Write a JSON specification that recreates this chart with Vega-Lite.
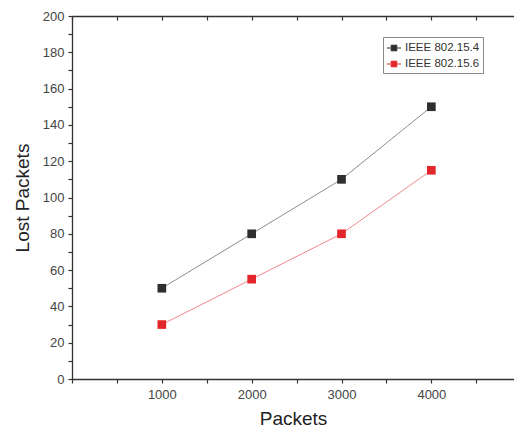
{
  "$schema": "https://vega.github.io/schema/vega-lite/v6.json",
  "width": 442,
  "height": 363,
  "autosize": {"type": "none"},
  "padding": {"left": 72, "top": 16, "right": 0, "bottom": 57},
  "background": "white",
  "config": {
    "view": {"stroke": null},
    "axis": {
      "labelFont": "Liberation Sans",
      "titleFont": "Liberation Sans",
      "grid": false,
      "domainColor": "#333",
      "domainWidth": 1.3,
      "tickColor": "#333",
      "tickWidth": 1.2,
      "labelColor": "#444",
      "labelFontSize": 13,
      "labelOverlap": false,
      "titleFontSize": 19,
      "titleFontWeight": "normal",
      "titleColor": "#222"
    }
  },
  "data": {
    "values": [
      {"packets": 1000, "lost": 50, "series": "IEEE 802.15.4"},
      {"packets": 2000, "lost": 80, "series": "IEEE 802.15.4"},
      {"packets": 3000, "lost": 110, "series": "IEEE 802.15.4"},
      {"packets": 4000, "lost": 150, "series": "IEEE 802.15.4"},
      {"packets": 1000, "lost": 30, "series": "IEEE 802.15.6"},
      {"packets": 2000, "lost": 55, "series": "IEEE 802.15.6"},
      {"packets": 3000, "lost": 80, "series": "IEEE 802.15.6"},
      {"packets": 4000, "lost": 115, "series": "IEEE 802.15.6"}
    ]
  },
  "resolve": {"axis": {"x": "independent"}},
  "encoding": {
    "y": {
      "field": "lost", "type": "quantitative",
      "scale": {"domain": [0, 200], "nice": false},
      "axis": {
        "title": "Lost Packets",
        "values": [0, 10, 20, 30, 40, 50, 60, 70, 80, 90, 100, 110, 120, 130, 140, 150, 160, 170, 180, 190, 200],
        "labelExpr": "datum.value % 20 === 0 ? format(datum.value, 'd') : ''",
        "tickSize": 4,
        "labelPadding": 4,
        "titlePadding": 10
      }
    }
  },
  "layer": [
    {
      "mark": {"type": "line", "strokeWidth": 1, "opacity": 0.55},
      "encoding": {
        "x": {
          "field": "packets", "type": "quantitative",
          "scale": {"domain": [0, 4920], "nice": false, "zero": false},
          "axis": {
            "title": "Packets",
            "values": [0, 500, 1000, 1500, 2000, 2500, 3000, 3500, 4000, 4500],
            "labelExpr": "datum.value % 1000 === 0 && datum.value > 0 ? format(datum.value, 'd') : ''",
            "tickSize": 4,
            "labelPadding": 5,
            "titlePadding": 8
          }
        },
        "color": {
          "field": "series", "type": "nominal",
          "scale": {"range": ["#2e2e2e", "#e3262c"]},
          "legend": {
            "title": null,
            "orient": "none",
            "legendX": 311,
            "legendY": 21,
            "strokeColor": "#888",
            "padding": 3,
            "labelFont": "Liberation Sans",
            "labelFontSize": 11.5,
            "labelColor": "#333",
            "symbolType": "M-1,0H-0.45M0.45,0H1M-0.4,-0.4H0.4V0.4H-0.4Z",
            "symbolSize": 200,
            "symbolStrokeWidth": 1,
            "symbolOpacity": 1,
            "rowPadding": 2,
            "labelOffset": 3
          }
        }
      }
    },
    {
      "mark": {"type": "point", "shape": "square", "filled": true, "size": 75, "opacity": 1},
      "encoding": {
        "x": {"field": "packets", "type": "quantitative", "axis": null},
        "color": {"field": "series", "type": "nominal"}
      }
    },
    {
      "mark": {"type": "point", "opacity": 0},
      "encoding": {
        "x": {
          "field": "packets", "type": "quantitative",
          "axis": {
            "orient": "top", "title": null,
            "values": [0, 500, 1000, 1500, 2000, 2500, 3000, 3500, 4000, 4500],
            "labels": false,
            "tickSize": -4
          }
        }
      }
    }
  ]
}
